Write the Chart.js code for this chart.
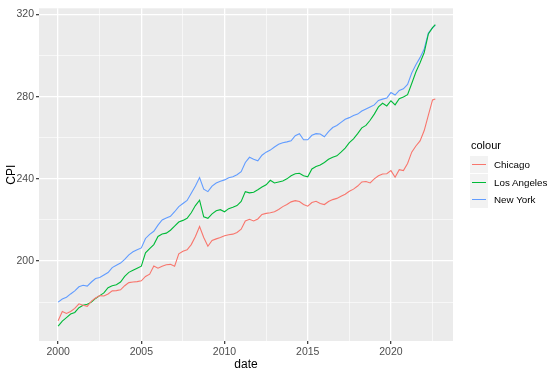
<!DOCTYPE html>
<html lang="en">
<head>
    <meta charset="UTF-8">
    <title>CPI by city</title>
    <script src="https://cdn.jsdelivr.net/npm/chart.js"></script>
    <style>
        body { margin: 0; background: #fff; font-family: "Liberation Sans", Arial, sans-serif; }
        #wrap { position: relative; width: 550px; height: 373px; }
        #legend { position: absolute; left: 0; top: 0; }
        .lg-title { position: absolute; left: 471px; top: 139px; font-size: 11px; line-height: 13px; color: #000; white-space: nowrap; }
        .lg-key { position: absolute; left: 470px; width: 18px; height: 17px; background: #f2f2f2; }
        .lg-key span { position: absolute; left: 2px; top: 8px; width: 14px; height: 0; border-top: 1px solid; }
        .lg-text { position: absolute; left: 494px; font-size: 9.8px; line-height: 17px; color: #000; white-space: nowrap; }
    </style>
</head>
<body>
<div id="wrap">
    <canvas id="cpiChart" width="550" height="373"></canvas>
    <div id="legend"></div>
</div>

<script>
    // quarterly readings, Jan 2000 .. Sep 2022
    const months = [
        '2000-01','2000-04','2000-07','2000-10','2001-01','2001-04','2001-07','2001-10',
        '2002-01','2002-04','2002-07','2002-10','2003-01','2003-04','2003-07','2003-10',
        '2004-01','2004-04','2004-07','2004-10','2005-01','2005-04','2005-07','2005-10',
        '2006-01','2006-04','2006-07','2006-10','2007-01','2007-04','2007-07','2007-10',
        '2008-01','2008-04','2008-07','2008-10','2009-01','2009-04','2009-07','2009-10',
        '2010-01','2010-04','2010-07','2010-10','2011-01','2011-04','2011-07','2011-10',
        '2012-01','2012-04','2012-07','2012-10','2013-01','2013-04','2013-07','2013-10',
        '2014-01','2014-04','2014-07','2014-10','2015-01','2015-04','2015-07','2015-10',
        '2016-01','2016-04','2016-07','2016-10','2017-01','2017-04','2017-07','2017-10',
        '2018-01','2018-04','2018-07','2018-10','2019-01','2019-04','2019-07','2019-10',
        '2020-01','2020-04','2020-07','2020-10','2021-01','2021-04','2021-07','2021-10',
        '2022-01','2022-04','2022-07','2022-09'
    ];

    const chicago = [
        171.0, 175.5, 174.5, 175.5, 177.0, 179.2, 178.5, 178.0,
        180.5, 182.0, 183.2, 183.0, 184.0, 185.5, 185.6, 186.0,
        188.0, 189.5, 189.8, 190.0, 190.4, 192.5, 193.6, 197.6,
        196.5, 197.5, 198.2, 198.4, 197.5, 203.5, 204.8, 205.5,
        208.0, 212.0, 216.8, 211.5, 207.2, 210.0, 210.8, 211.5,
        212.3, 212.8, 213.1, 213.9, 215.5, 219.5, 220.3, 219.5,
        220.5, 222.7, 223.2, 223.5, 224.0, 225.1, 226.5, 227.5,
        228.8, 229.4, 229.0, 227.5, 226.7, 228.5, 229.1, 228.0,
        227.5, 229.0, 229.9, 230.5, 231.5, 232.5, 234.0, 235.0,
        236.5, 238.5, 238.7, 238.0, 240.0, 241.5, 242.4, 242.5,
        244.0, 240.8, 244.5, 244.0, 247.5, 253.0, 256.0, 258.5,
        263.5, 271.0, 278.4, 278.9
    ];

    const losAngeles = [
        168.3, 170.8, 172.5, 174.2, 175.0, 177.3, 178.5, 179.0,
        180.0, 181.8, 183.2, 184.5, 187.0, 188.0, 188.5, 189.8,
        192.5, 194.5, 195.5, 196.5, 197.5, 204.0, 206.0, 208.0,
        212.0, 213.2, 213.6, 215.0, 217.0, 219.0, 219.8, 220.8,
        223.5, 227.0, 229.6, 221.5, 220.8, 223.0, 224.5, 225.0,
        224.0, 225.5, 226.2, 227.0, 229.0, 233.8, 233.2, 233.5,
        234.7, 236.0, 237.1, 239.3, 238.0, 238.5, 239.0, 240.0,
        241.5, 242.5, 242.7, 241.5, 241.0, 244.8, 246.0, 246.8,
        248.0, 249.5, 250.5, 251.2, 253.0, 255.0, 257.6, 259.5,
        262.0, 264.8, 266.0, 268.5, 271.5, 275.0, 276.8, 275.5,
        278.0, 276.0, 279.0, 279.8, 281.0, 286.4, 292.0, 296.5,
        301.5, 310.5, 313.6, 315.0
    ];

    const newYork = [
        180.0, 181.5, 182.4, 184.0, 185.5, 187.5, 188.2, 187.8,
        189.8, 191.5, 192.0, 193.2, 194.4, 196.8, 198.0, 199.0,
        200.8, 203.0, 204.5, 205.5, 206.4, 211.0, 213.0, 214.5,
        217.5, 220.0, 221.0, 221.8, 224.0, 226.5, 228.0, 229.5,
        233.0, 236.5, 240.6, 235.0, 233.8, 236.5, 238.0, 238.8,
        239.5, 240.5, 241.0, 242.0, 243.5, 248.0, 250.5, 249.5,
        248.8, 251.5, 253.0, 254.0, 255.5, 256.8, 257.6, 258.0,
        258.5, 261.0, 262.0, 259.0, 259.0, 261.2, 262.0, 261.8,
        260.5, 263.0, 265.0, 266.0, 267.5, 269.0, 269.8, 270.8,
        271.5, 273.0, 274.0, 275.0, 276.0, 278.2, 278.8, 279.3,
        282.0, 280.8, 283.0, 283.8, 286.0, 291.5, 295.5, 299.0,
        303.2, 311.0, 313.5, 314.8
    ];

    const seriesNames = ['Chicago', 'Los Angeles', 'New York'];
    const seriesColors = ['#F8766D', '#00BA38', '#619CFF'];
    const seriesValues = [chicago, losAngeles, newYork];

    // axis breaks (major + minor like ggplot)
    const xBreaks = [2000, 2002.5, 2005, 2007.5, 2010, 2012.5, 2015, 2017.5, 2020, 2022.5];
    const yBreaks = [180, 200, 220, 240, 260, 280, 300, 320];
    const xMajor = [2000, 2005, 2010, 2015, 2020];
    const yMajor = [200, 240, 280, 320];

    function toYear(m) {
        const [y, mo] = m.split('-').map(Number);
        return y + (mo - 1) / 12;
    }

    const datasets = seriesNames.map((name, i) => ({
        label: name,
        data: months.map((m, j) => ({ x: toYear(m), y: seriesValues[i][j] })),
        borderColor: seriesColors[i],
        borderWidth: 1.1,
        pointRadius: 0,
        tension: 0,
        fill: false
    }));

    const panelBg = {
        id: 'panelBg',
        beforeDraw(chart) {
            const { ctx, chartArea: a } = chart;
            ctx.save();
            ctx.fillStyle = '#ebebeb';
            ctx.fillRect(a.left, a.top, a.right - a.left, a.bottom - a.top);
            ctx.restore();
        }
    };

    function gridFor(major) {
        return {
            color: '#ffffff',
            lineWidth: (c) => major.includes(c.tick && c.tick.value) ? 1.3 : 0.6,
            tickColor: (c) => major.includes(c.tick && c.tick.value) ? '#444444' : 'rgba(0,0,0,0)',
            tickLength: 3,
            drawTicks: true
        };
    }

    new Chart(document.getElementById('cpiChart'), {
        type: 'line',
        data: { datasets },
        plugins: [panelBg],
        options: {
            responsive: false,
            animation: false,
            layout: { padding: { top: 5, right: 97, left: 0, bottom: 0 } },
            plugins: {
                legend: { display: false },
                tooltip: { enabled: false }
            },
            scales: {
                x: {
                    type: 'linear',
                    min: 1998.85,
                    max: 2023.73,
                    afterBuildTicks: (s) => { s.ticks = xBreaks.map(v => ({ value: v })); },
                    afterFit: (s) => { s.height = 32; },
                    border: { display: false },
                    grid: gridFor(xMajor),
                    ticks: {
                        autoSkip: false,
                        maxRotation: 0,
                        padding: 2,
                        color: '#4d4d4d',
                        font: { family: 'Liberation Sans', size: 10.5 },
                        callback: (v) => xMajor.includes(v) ? String(v) : ''
                    },
                    title: {
                        display: true,
                        text: 'date',
                        color: '#000',
                        font: { family: 'Liberation Sans', size: 12 },
                        padding: { top: 0, bottom: 1 }
                    }
                },
                y: {
                    type: 'linear',
                    min: 161.1,
                    max: 323,
                    afterBuildTicks: (s) => { s.ticks = yBreaks.map(v => ({ value: v })); },
                    afterFit: (s) => { s.width = 39; },
                    border: { display: false },
                    grid: gridFor(yMajor),
                    ticks: {
                        autoSkip: false,
                        padding: 2,
                        color: '#4d4d4d',
                        font: { family: 'Liberation Sans', size: 10.5 },
                        callback: (v) => yMajor.includes(v) ? String(v) : ''
                    },
                    title: {
                        display: true,
                        text: 'CPI',
                        color: '#000',
                        font: { family: 'Liberation Sans', size: 12 },
                        padding: { top: 4, bottom: 0 }
                    }
                }
            }
        }
    });

    // legend in ggplot style
    const legend = document.getElementById('legend');
    let html = '<div class="lg-title">colour</div>';
    seriesNames.forEach((name, i) => {
        const top = Math.round(156 + i * 17.5);
        html += `<div class="lg-key" style="top:${top}px"><span style="border-color:${seriesColors[i]}"></span></div>`;
        html += `<div class="lg-text" style="top:${top}px">${name}</div>`;
    });
    legend.innerHTML = html;
</script>
</body>
</html>
